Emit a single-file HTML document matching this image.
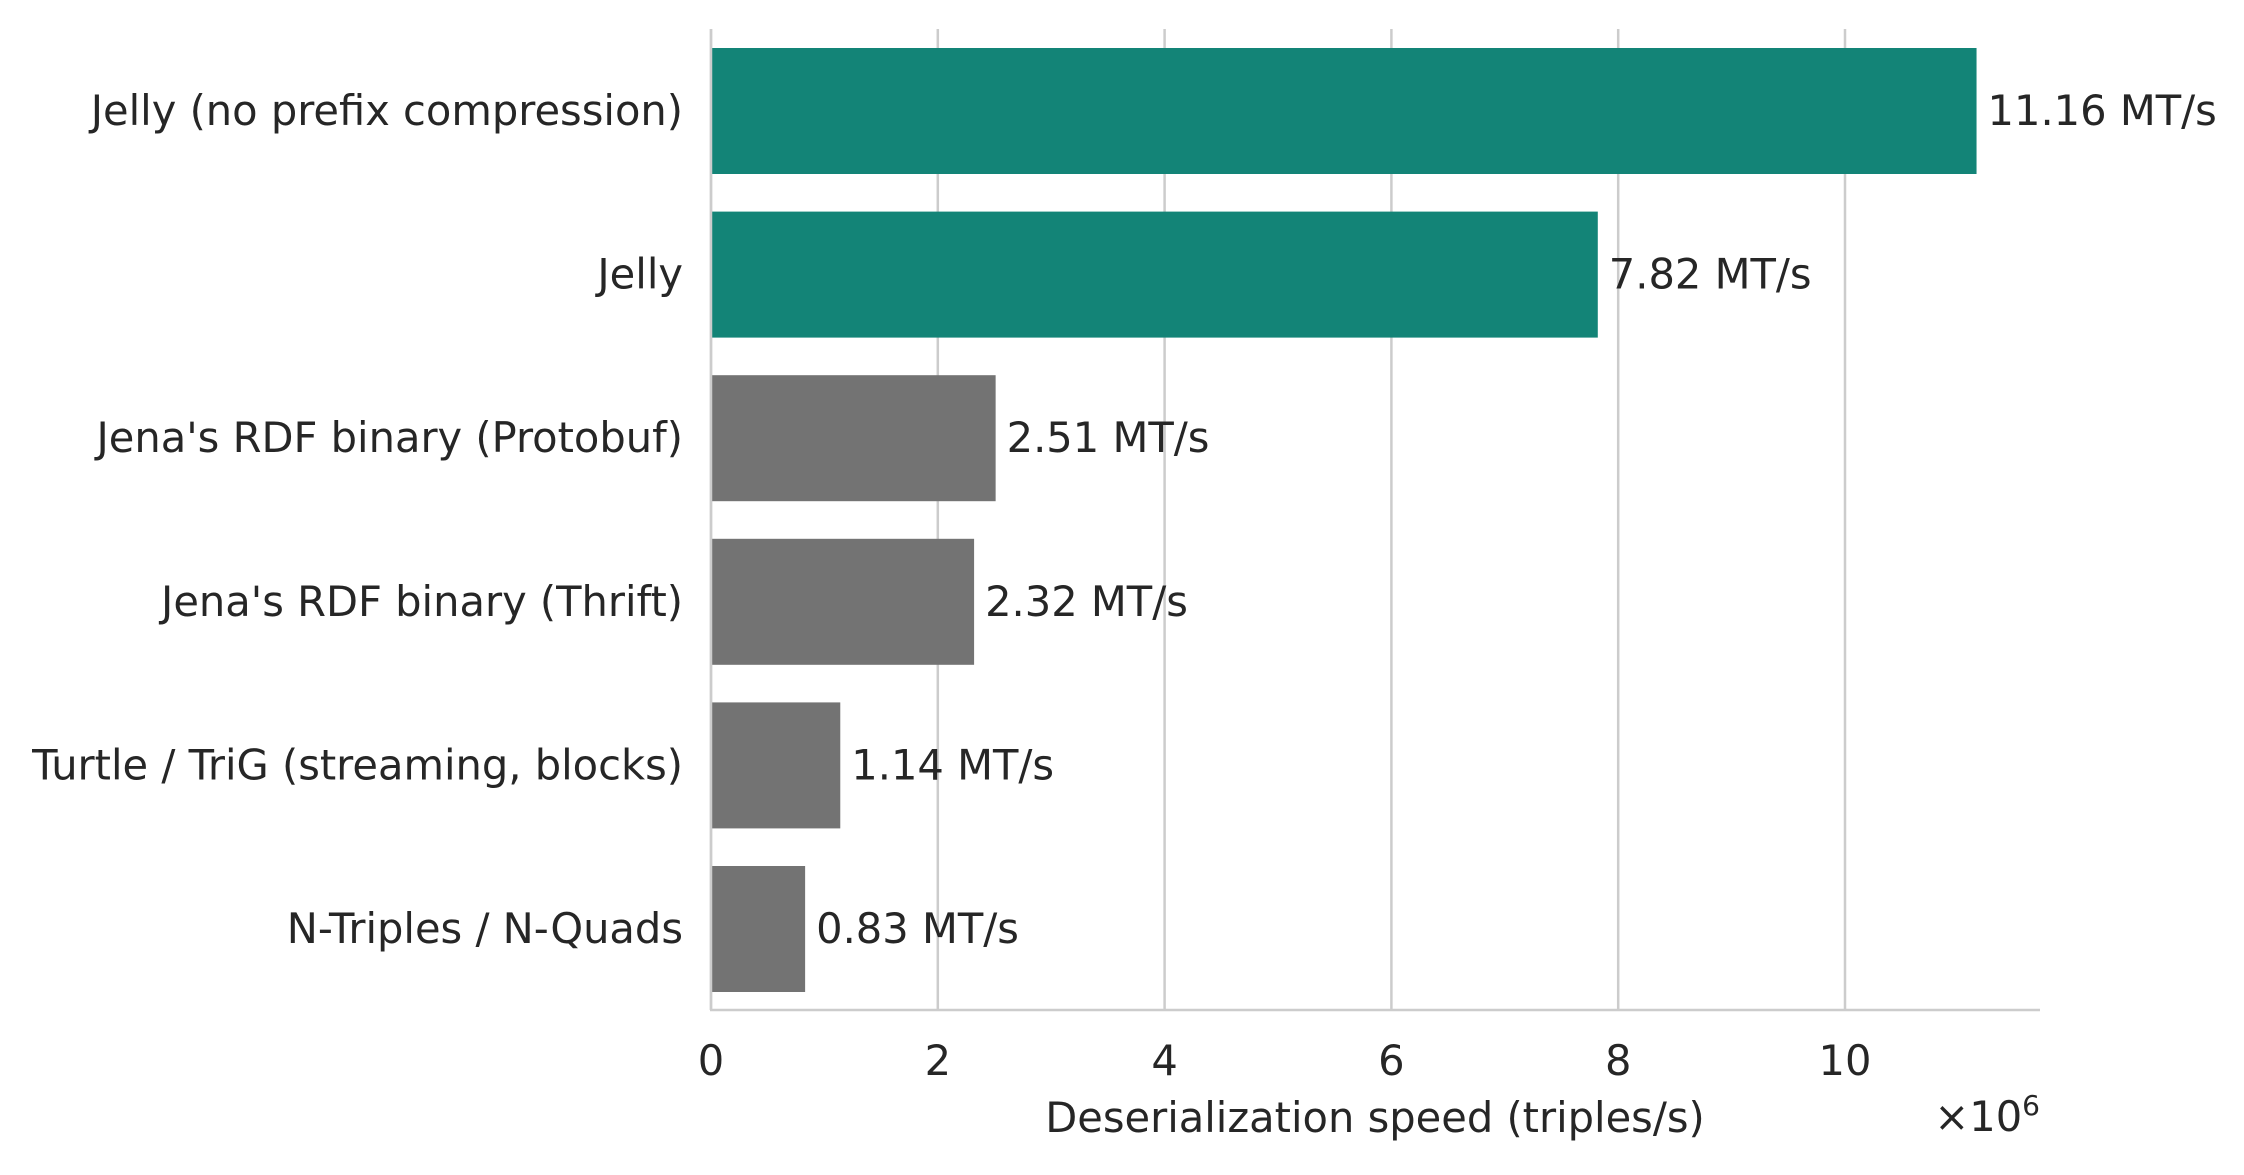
<!DOCTYPE html>
<html><head><meta charset="utf-8"><style>
body{margin:0;background:#fff}
svg text{font-family:"DejaVu Sans","Liberation Sans",sans-serif;fill:#262626}
</style></head><body>
<svg id="chart" width="2244" height="1170" viewBox="0 0 2244 1170" xmlns="http://www.w3.org/2000/svg"></svg>
<script>
const categories=["Jelly (no prefix compression)","Jelly","Jena's RDF binary (Protobuf)","Jena's RDF binary (Thrift)","Turtle / TriG (streaming, blocks)","N-Triples / N-Quads"];
const values=[11.16,7.82,2.51,2.32,1.14,0.83];
const valueLabels=["11.16 MT/s","7.82 MT/s","2.51 MT/s","2.32 MT/s","1.14 MT/s","0.83 MT/s"];
const highlight=[true,true,false,false,false,false];
const xTicks=[0,2,4,6,8,10];
const NS="http://www.w3.org/2000/svg";
const svg=document.getElementById('chart');
const X0=711,UNIT=113.4,TOP=29,BOTTOM=1010,XR=2040,BAND=163.6,BH=126,FIRST=111,FS=41.6;
const x=v=>X0+v*UNIT;
const yc=i=>FIRST+i*BAND;
function mk(t,a,p){const e=document.createElementNS(NS,t);for(const k in a)e.setAttribute(k,a[k]);(p||svg).appendChild(e);return e;}
xTicks.forEach(t=>{
 const g=mk('line',{x1:x(t),x2:x(t),y1:TOP,y2:BOTTOM,stroke:'#cccccc','stroke-width':2.5});
 
 
 const l=mk('text',{x:x(t),y:1075,'font-size':FS,'text-anchor':'middle'});
 l.textContent=t;
 
 
});
categories.forEach((c,i)=>{
 const b=mk('rect',{x:X0,y:yc(i)-BH/2,width:x(values[i])-X0,height:BH,fill:highlight[i]?'#138477':'#737373'});
 
 
 const t=mk('text',{x:683,y:yc(i)+14,'font-size':FS,'text-anchor':'end'});
 t.textContent=c;
 
 
 const v=mk('text',{x:x(values[i])+11,y:yc(i)+14,'font-size':FS});
 v.textContent=valueLabels[i];
 
 
});
const ax=mk('line',{x1:X0,x2:X0,y1:TOP,y2:BOTTOM,stroke:'#cccccc','stroke-width':2.5});


const bx=mk('line',{x1:X0-1,x2:XR,y1:BOTTOM,y2:BOTTOM,stroke:'#cccccc','stroke-width':2.5});


const xt=mk('text',{x:1375,y:1132,'font-size':FS,'text-anchor':'middle'});
xt.textContent='Deserialization speed (triples/s)';


const off=mk('text',{x:XR,y:1131,'font-size':FS,'text-anchor':'end'});
off.innerHTML='×10<tspan font-size="28" dy="-16">6</tspan>';


</script>
</body></html>
